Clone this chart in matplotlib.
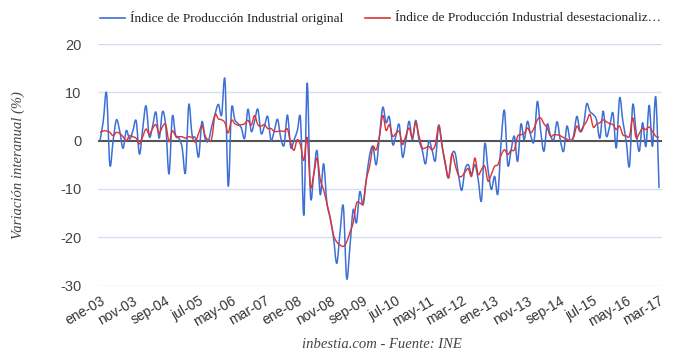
import matplotlib
matplotlib.use("Agg")
import matplotlib.pyplot as plt
from matplotlib.lines import Line2D
from matplotlib.path import Path
from matplotlib.patches import PathPatch

months_es = ["ene", "feb", "mar", "abr", "may", "jun", "jul", "ago", "sep", "oct", "nov", "dic"]
start_year = 2003
n_months = 171
tick_step = 10

original = [
    0, 4, 9.8, -5.0, 0, 4.3, 2, -1.6, 2.1, 0.3,
    2, 4.1, -2.8, 2.5, 7.2, 0.8, 3, 5.9, 0.5, 6.0,
    3, -6.9, 5.0, 1.0, 0.5, -1.5, -6.6, 7.4, 1.2, 0.5,
    -3.4, 3.9, 0.3, 0, 3, 5.5, 7.5, 5.3, 12.6, -9.4,
    6.5, 4.3, 3.5, 2.6, 0.5, 6.5, 1.9, 4, 6.5, 1.5,
    3, 5, 0.1, 2, 4.4, 0.5, -0.9, 5.3, -1.4, 0.1,
    2, 4.3, -15.4, 11.9, -11.4, -7, -2.1, -11.2, -4.8, -12.9,
    -16, -20, -25.4, -19, -13.6, -28.5, -22, -14.3, -17, -10.6,
    -13.3, -8, -3, -1.2, -5, 1, 6.9, 3.7, 4.9, -0.8,
    1, 3.3, -3.4, 0, 4, 0.2, 4.2, 0.2, -2, -4.8,
    -0.1, -2, -4.1, 3.2, -1, -5, -7.7, -3, -2.6, -7,
    -10.3, -6, -5, -7, -5, -8, -12.4, -0.7, -6, -10.1,
    -7.4, -11, 0, 6.2, -5, -2, 0.9, -4.3, 3.4, 0.2,
    4, 1, -0.1, 8.1, 2, -2.2, 3.4, 1, 0.2, 3.9,
    0, -2.2, 3, -0.1, 1, 5, 1.9, 3, 7.6, 6,
    5.4, 4.3, 0.5, 6.1, 0.9, 3, 5.7, -1.5, 8.8, 4,
    0, -5.3, 7.4, 2, -2.2, 3.7, -1.2, 7.3, -1.2, 9,
    -9.8,
]

desestacionalizado = [
    1.7, 2.0, 2.0, 1.7, 1.0, 1.7, 1.5, 0.8, 0, 1.0,
    0.8, 0.5, -0.7, 0.8, 2.4, 1.2, 2.5, 3.3, 1.5, 2.9,
    3.3, -0.2, 2.0, 1.0, 0.8, 0.8, 0.5, 0.8, 0.6, -0.3,
    1.5, 3.1, 1.0, 0, 0.5, 5.3, 4.5, 4.3, 3.7, 1.6,
    4.2, 3.5, 3.2, 3.3, 3.5, 4.2, 3.2, 5.2, 3.3, 3.0,
    3.3, 2.5, 2.5, 1.9, 1.9, 2.0, 1.9, 2.4, -0.5, -2.0,
    0.2, -1, -4.1, 0.6, -9.5, -7, -3.6, -8.1, -10.2, -13,
    -16, -19.5, -21, -21.6, -21.9, -21, -19, -17, -13, -12.9,
    -12.9, -8, -5.3, -1.3, -1.9, 1, 5.2, 2.1, 3.3, 0.9,
    1.5, 1.9, -0.8, 1, 2.6, 0.6, 3.7, 1, -1.5, -1.5,
    -1.2, -1.9, -0.8, 3, -1, -4.5, -7.7, -2.8, -5, -7.2,
    -7.4, -6.5, -5.8, -7.4, -3.6, -7, -6, -5.3, -8.4, -7,
    -5.3, -5, -3, -1.9, -2.9, -2, -1.9, 0.9, 1.2, 1.5,
    2.6, 1.6, 2.6, 4.3, 4.7, 3.5, 2.6, 0.9, 1.2, 1.2,
    1, 0.6, 0.3, 0, 0.6, 3, 1.9, 3, 4, 5.4,
    2.8, 3.4, 3.7, 4.3, 3.9, 3.5, 3.3, 2.3, 3, 1.2,
    1, 0.9, 4.7, 0.6, 1.5, 2.6, 2.3, 2.8, 1.9, 0.9,
    0.7,
]

label_original = "Índice de Producción Industrial original"
label_desest = "Índice de Producción Industrial desestacionaliz…"
y_label = "Variación interanual (%)"
footer = "inbestia.com - Fuente: INE"
y_ticks = [-30, -20, -10, 0, 10, 20]

labels = [f"{months_es[k % 12]}-{(start_year + k // 12) % 100:02d}" for k in range(n_months)]
x = list(range(n_months))
tick_pos = list(range(0, n_months, tick_step))
tick_lab = [labels[k] for k in tick_pos]


def smooth_path(xs, ys, t=1 / 6):
    """Cubic Bezier path through every data point (Catmull-Rom style curve)."""
    n = len(xs)
    verts = [(xs[0], ys[0])]
    codes = [Path.MOVETO]
    for i in range(n - 1):
        i0 = max(i - 1, 0)
        i3 = min(i + 2, n - 1)
        c1 = (xs[i] + (xs[i + 1] - xs[i0]) * t, ys[i] + (ys[i + 1] - ys[i0]) * t)
        c2 = (xs[i + 1] - (xs[i3] - xs[i]) * t, ys[i + 1] - (ys[i3] - ys[i]) * t)
        verts += [c1, c2, (xs[i + 1], ys[i + 1])]
        codes += [Path.CURVE4] * 3
    return Path(verts, codes)


W, H = 680, 357
fig = plt.figure(figsize=(W / 100, H / 100), dpi=100)
ax = fig.add_axes([98 / W, (H - 285.5) / H, (662 - 98) / W, (285.5 - 44) / H])

blue = "#3d6fd6"
red = "#dd3333"

for yt in y_ticks:
    if yt != 0:
        ax.axhline(yt, color="#d5dff3", lw=1.0, zorder=1)
ax.axhline(0, color="#555555", lw=1.5, zorder=2)
ax.add_patch(PathPatch(smooth_path(x, original), facecolor="none", edgecolor=blue,
                       lw=1.1, zorder=3, joinstyle="round"))
ax.add_patch(PathPatch(smooth_path(x, desestacionalizado), facecolor="none", edgecolor=red,
                       lw=1.0, zorder=4, joinstyle="round"))

ax.set_ylim(-30, 20)
ax.set_xlim(-0.6, 170.9)
for s in ax.spines.values():
    s.set_visible(False)
ax.set_yticks(y_ticks)
ax.set_yticklabels([str(v) for v in y_ticks], fontsize=10.5, color="#444444",
                   family="Liberation Sans")
ax.tick_params(axis="y", length=0, pad=12)
ax.set_xticks(tick_pos)
ax.set_xticklabels(tick_lab, rotation=30, ha="right", rotation_mode="anchor",
                   fontsize=10, color="#333333", family="Liberation Sans")
ax.tick_params(axis="x", length=0, pad=6)

fig.text(18 / W, 1 - 165 / H, y_label, rotation=90, ha="center", va="center",
         fontsize=10.5, style="italic", color="#444444", family="Liberation Serif")
fig.text(382 / W, 1 - 344 / H, footer, ha="center", va="center",
         fontsize=10.5, style="italic", color="#444444", family="Liberation Serif")

ly = 1 - 18 / H
fig.add_artist(Line2D([100 / W, 125 / W], [ly, ly], color=blue, lw=1.2))
fig.text(130 / W, ly, label_original, ha="left", va="center", fontsize=9.6,
         color="#222222", family="Liberation Serif")
fig.add_artist(Line2D([365 / W, 390 / W], [ly, ly], color=red, lw=1.2))
fig.text(395 / W, ly, label_desest, ha="left", va="center", fontsize=9.6,
         color="#222222", family="Liberation Serif")

fig.savefig("out.png", dpi=100)
